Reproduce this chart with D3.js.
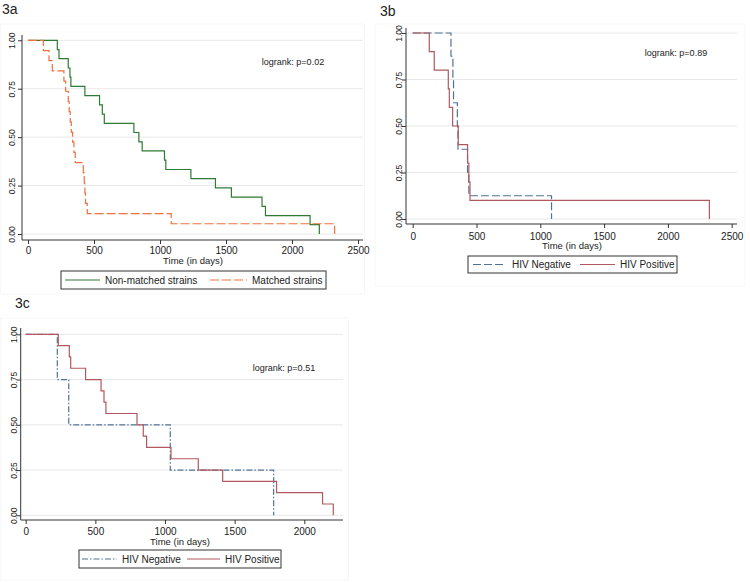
<!DOCTYPE html>
<html><head><meta charset="utf-8">
<script src="https://cdn.jsdelivr.net/npm/d3@7/dist/d3.min.js"></script>
<style>body{margin:0;background:#fff}svg{display:block;font-family:"Liberation Sans",Arial,sans-serif}</style>
</head><body>
<svg id="c" width="750" height="582"></svg>
<script>
// ---- data ----
const xTicks3ab = [0, 500, 1000, 1500, 2000, 2500];
const xTicks3c = [0, 500, 1000, 1500, 2000];
const yTicks = [0, 0.25, 0.5, 0.75, 1];
const panelTitles = ["3a", "3b", "3c"];
const logrankLabels = ["logrank: p=0.02", "logrank: p=0.89", "logrank: p=0.51"];
const legend3a = ["Non-matched strains", "Matched strains"];
const legendHIV = ["HIV Negative", "HIV Positive"];

// 3a Non-matched strains: event times and survival after each event
const nonMatchedT = [222,235,305,318,325,431,542,563,578,802,840,865,1034,1044,1234,1420,1541,1773,1799,2137,2207];
const nonMatchedS = [0.952,0.905,0.857,0.810,0.762,0.714,0.667,0.619,0.571,0.524,0.476,0.429,0.381,0.333,0.286,0.238,0.190,0.143,0.095,0.048,0];
// 3a Matched strains
const matchedT = [116,159,184,272,285,305,312,320,328,338,348,358,419,426,431,436,449,1085,2323];
const matchedS = [0.947,0.895,0.842,0.789,0.737,0.684,0.632,0.579,0.526,0.474,0.421,0.368,0.316,0.263,0.211,0.158,0.105,0.053,0];
// 3b
const bNegT = [300,315,320,350,355,430,440,1088];
const bNegS = [0.875,0.75,0.625,0.5,0.375,0.25,0.125,0];
const bPosT = [130,169,279,287,313,357,430,440,449,2325];
const bPosS = [0.9,0.8,0.7,0.6,0.5,0.4,0.3,0.2,0.1,0];
// 3c
const cNegT = [227,309,1038,1780];
const cNegS = [0.75,0.5,0.25,0];
const cPosT = [234,313,323,430,541,562,576,799,844,868,1043,1239,1414,1801,2131,2208];
const cPosS = [0.9375,0.875,0.8125,0.75,0.6875,0.625,0.5625,0.5,0.4375,0.375,0.3125,0.25,0.1875,0.125,0.0625,0];

const GREEN = "#2f7a34", ORANGE = "#f0703c", BLUE = "#4f7393", RED = "#b2585f";
const svg = d3.select("#c");

function panel(cfg) {
  const g = svg.append("g");
  const x = d3.scaleLinear().domain([0, cfg.xMax]).range([cfg.x0, cfg.x1]);
  const y = d3.scaleLinear().domain([0, 1]).range([cfg.y0, cfg.y1]);
  // faint graph region frame
  g.append("rect").attr("x", cfg.frame[0]).attr("y", cfg.frame[1]).attr("width", cfg.frame[2]).attr("height", cfg.frame[3])
    .attr("fill", "none").attr("stroke", "#f7f7f7").attr("stroke-width", 1);
  // gridlines
  g.selectAll(".grid").data(yTicks).join("line").attr("class", "grid")
    .attr("x1", cfg.axX).attr("x2", cfg.plotRight)
    .attr("y1", d => y(d)).attr("y2", d => y(d))
    .attr("stroke", "#e8e8e8").attr("stroke-width", 1);
  // axes
  const yAxis = d3.axisLeft(y).tickValues(yTicks).tickSize(4).tickFormat(d3.format(".2f"));
  const ya = g.append("g").attr("transform", `translate(${cfg.axX},0)`).call(yAxis);
  ya.select(".domain").attr("d", `M0,${cfg.axTop}V${cfg.axY}`);
  ya.selectAll(".tick text").attr("x", null).attr("dy", "0.35em").attr("y", 0)
    .attr("text-anchor", "middle")
    .attr("transform", `translate(${cfg.yLabX - cfg.axX},0) rotate(-90)`)
    .attr("font-size", 8.5).attr("fill", "#222");
  const xAxis = d3.axisBottom(x).tickValues(cfg.xTicks).tickSize(4).tickFormat(d3.format("d"));
  const xa = g.append("g").attr("transform", `translate(0,${cfg.axY})`).call(xAxis);
  xa.select(".domain").attr("d", `M${cfg.axX},0H${cfg.plotRight}`);
  xa.selectAll(".tick text").attr("dy", null).attr("y", cfg.xLabBase - cfg.axY).attr("font-size", 10).attr("fill", "#222");
  g.selectAll(".domain, .tick line").attr("stroke", "#333");
  g.append("text").attr("x", cfg.xTitleX).attr("y", cfg.xTitleY).attr("text-anchor", "middle")
    .attr("font-size", 9.5).attr("fill", "#222").text("Time (in days)");
  // panel title
  g.append("text").attr("x", cfg.titleX).attr("y", cfg.titleY).attr("font-size", 14).attr("fill", "#222").text(cfg.title);
  // logrank
  g.append("text").attr("x", cfg.lrX).attr("y", cfg.lrY).attr("text-anchor", "middle")
    .attr("font-size", 9).attr("fill", "#222").text(cfg.lr);
  // curves
  const line = d3.line().x(d => x(d[0])).y(d => y(d[1])).curve(d3.curveStepAfter);
  cfg.series.forEach(s => {
    const pts = [[0, 1]].concat(s.t.map((t, i) => [t, s.s[i]]));
    g.append("path").attr("d", line(pts)).attr("fill", "none").attr("stroke", s.color)
      .attr("stroke-width", 1.2).attr("stroke-dasharray", s.dash || null);
  });
  // legend
  const L = cfg.legend;
  g.append("rect").attr("x", L.x).attr("y", L.y).attr("width", L.w).attr("height", L.h)
    .attr("fill", "#fff").attr("stroke", "#333").attr("stroke-width", 1);
  cfg.series.forEach((s, i) => {
    const it = L.items[i];
    g.append("line").attr("x1", it[0]).attr("x2", it[1]).attr("y1", L.y + L.h / 2).attr("y2", L.y + L.h / 2)
      .attr("stroke", s.color).attr("stroke-width", 1.2).attr("stroke-dasharray", s.dash || null);
    g.append("text").attr("x", it[2]).attr("y", L.y + L.h / 2 + 3.6).attr("font-size", 10).attr("fill", "#222").text(s.name);
  });
}

panel({
  title: panelTitles[0], titleX: 2, titleY: 14, lr: logrankLabels[0], lrX: 293, lrY: 65,
  xMax: 2500, x0: 28, x1: 358, y0: 234, y1: 40.3, xTicks: xTicks3ab,
  axX: 22, axY: 240, axTop: 35, plotRight: 363, yLabX: 12.5, xLabBase: 254, xTitleX: 193, xTitleY: 264,
  frame: [0.5, 24, 364, 270],
  series: [
    {name: legend3a[0], t: nonMatchedT, s: nonMatchedS, color: GREEN},
    {name: legend3a[1], t: matchedT, s: matchedS, color: ORANGE, dash: "9,3"}
  ],
  legend: {x: 61, y: 271, w: 265, h: 18, items: [[65, 100, 105], [210, 247, 252]]}
});

panel({
  title: panelTitles[1], titleX: 380, titleY: 16, lr: logrankLabels[1], lrX: 676, lrY: 56,
  xMax: 2500, x0: 412.7, x1: 731.7, y0: 219, y1: 33, xTicks: xTicks3ab,
  axX: 406, axY: 224, axTop: 28, plotRight: 737, yLabX: 399, xLabBase: 240, xTitleX: 572, xTitleY: 249,
  frame: [375, 24, 370, 262],
  series: [
    {name: legendHIV[0], t: bNegT, s: bNegS, color: BLUE, dash: "8,3"},
    {name: legendHIV[1], t: bPosT, s: bPosS, color: RED}
  ],
  legend: {x: 468, y: 256, w: 209, h: 17, items: [[473, 505, 512], [580, 615, 620]]}
});

panel({
  title: panelTitles[2], titleX: 15, titleY: 308, lr: logrankLabels[2], lrX: 284, lrY: 371,
  xMax: 2000, x0: 25.7, x1: 304.3, y0: 515.3, y1: 334.3, xTicks: xTicks3c,
  axX: 20.7, axY: 520, axTop: 328, plotRight: 343, yLabX: 14, xLabBase: 535, xTitleX: 180, xTitleY: 545,
  frame: [0.5, 318, 348, 262],
  series: [
    {name: legendHIV[0], t: cNegT, s: cNegS, color: BLUE, dash: "6,2,1.5,2"},
    {name: legendHIV[1], t: cPosT, s: cPosS, color: RED}
  ],
  legend: {x: 79, y: 550, w: 202, h: 18, items: [[82, 117, 122], [187, 220, 225]]}
});
</script>
</body></html>
